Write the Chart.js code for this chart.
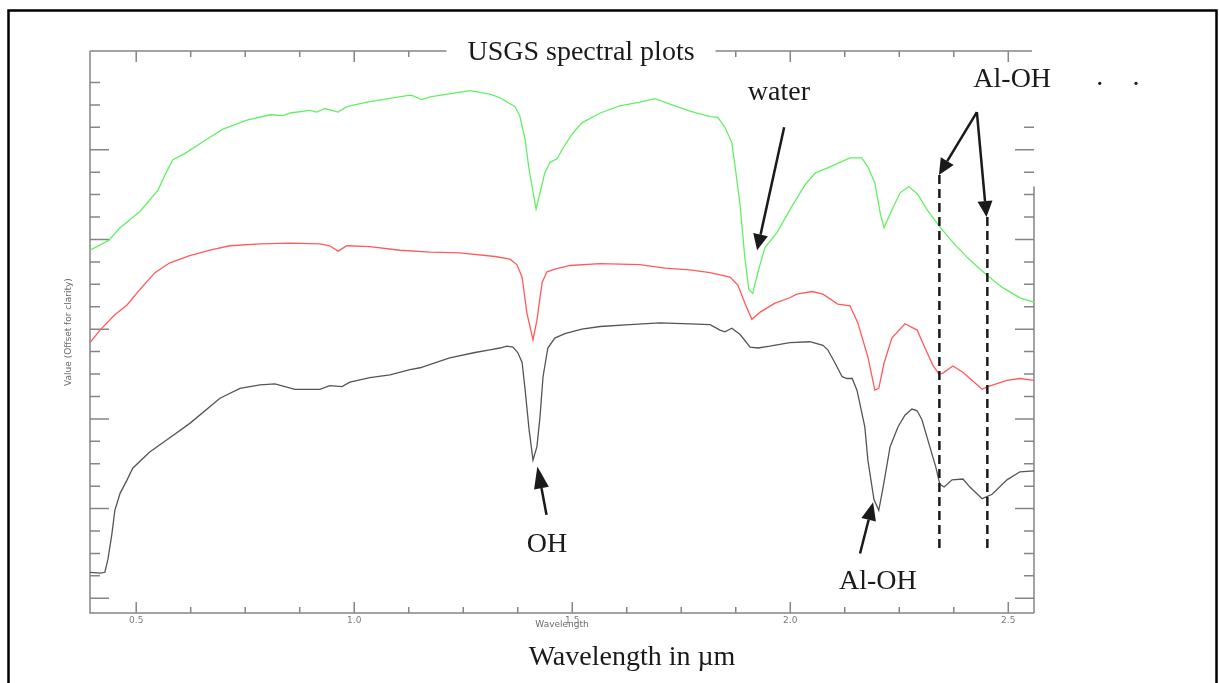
<!DOCTYPE html>
<html>
<head>
<meta charset="utf-8">
<title>USGS spectral plots</title>
<script src="https://cdn.jsdelivr.net/npm/chart.js"></script>
<style>
  html, body { margin: 0; padding: 0; background: #fff; }
  #wrap { position: relative; width: 1219px; height: 683px; }
</style>
</head>
<body>
<div id="wrap"><canvas id="spectra"></canvas></div>
<script>
// spectra: wavelength (µm) and offset value
const greenWl = [0.394, 0.437, 0.463, 0.508, 0.550, 0.566, 0.584, 0.612, 0.669, 0.699, 0.754, 0.807, 0.836, 0.853, 0.898, 0.914, 0.933, 0.963, 0.983, 1.029,
  1.128, 1.135, 1.155, 1.174, 1.265, 1.311, 1.334, 1.369, 1.380, 1.392, 1.401, 1.417, 1.426, 1.437, 1.449, 1.465, 1.479, 1.499, 1.522, 1.564,
  1.609, 1.655, 1.690, 1.724, 1.770, 1.816, 1.834, 1.850, 1.866, 1.873, 1.885, 1.896, 1.905, 1.914, 1.926, 1.942, 1.970, 1.999, 2.034, 2.057,
  2.091, 2.114, 2.137, 2.164, 2.178, 2.194, 2.206, 2.215, 2.236, 2.252, 2.272, 2.293, 2.314, 2.343, 2.378, 2.412, 2.451, 2.488, 2.527, 2.559];
const greenVal = [3.88, 3.99, 4.13, 4.31, 4.55, 4.72, 4.89, 4.96, 5.14, 5.23, 5.33, 5.39, 5.38, 5.41, 5.44, 5.42, 5.46, 5.42, 5.48, 5.53,
  5.61, 5.60, 5.56, 5.59, 5.66, 5.62, 5.58, 5.48, 5.37, 5.11, 4.78, 4.34, 4.52, 4.74, 4.86, 4.90, 5.02, 5.17, 5.30, 5.41,
  5.49, 5.53, 5.57, 5.51, 5.43, 5.37, 5.36, 5.25, 5.08, 4.83, 4.38, 3.79, 3.44, 3.40, 3.64, 3.91, 4.08, 4.33, 4.61, 4.74,
  4.81, 4.86, 4.91, 4.91, 4.81, 4.63, 4.30, 4.13, 4.36, 4.52, 4.59, 4.50, 4.33, 4.14, 3.94, 3.77, 3.60, 3.46, 3.35, 3.30];

const redWl = [0.394, 0.417, 0.451, 0.479, 0.508, 0.543, 0.577, 0.623, 0.669, 0.715, 0.784, 0.853, 0.921, 0.944, 0.963, 0.983, 1.036, 1.105, 1.174, 1.242,
  1.323, 1.357, 1.373, 1.385, 1.396, 1.410, 1.419, 1.431, 1.442, 1.460, 1.495, 1.564, 1.655, 1.713, 1.770, 1.816, 1.862, 1.880, 1.896, 1.912,
  1.931, 1.965, 1.999, 2.015, 2.050, 2.075, 2.109, 2.137, 2.155, 2.178, 2.194, 2.203, 2.215, 2.233, 2.263, 2.291, 2.309, 2.327, 2.341, 2.350,
  2.373, 2.396, 2.440, 2.453, 2.497, 2.527, 2.559];
const redVal = [2.85, 2.99, 3.16, 3.27, 3.44, 3.63, 3.74, 3.82, 3.88, 3.93, 3.95, 3.96, 3.95, 3.93, 3.87, 3.93, 3.92, 3.88, 3.86, 3.85,
  3.81, 3.78, 3.72, 3.58, 3.18, 2.88, 3.10, 3.52, 3.64, 3.67, 3.71, 3.73, 3.72, 3.68, 3.66, 3.63, 3.58, 3.49, 3.29, 3.11,
  3.19, 3.29, 3.35, 3.39, 3.42, 3.39, 3.28, 3.26, 3.07, 2.69, 2.32, 2.34, 2.62, 2.90, 3.06, 2.99, 2.79, 2.60, 2.50, 2.51,
  2.59, 2.52, 2.33, 2.36, 2.43, 2.45, 2.43];

const grayWl = [0.394, 0.417, 0.428, 0.435, 0.444, 0.451, 0.463, 0.479, 0.492, 0.520, 0.531, 0.577, 0.623, 0.692, 0.738, 0.784, 0.818, 0.864, 0.921, 0.944,
  0.972, 0.990, 1.036, 1.082, 1.128, 1.151, 1.219, 1.277, 1.311, 1.334, 1.350, 1.364, 1.375, 1.385, 1.392, 1.401, 1.410, 1.419, 1.426, 1.433,
  1.444, 1.460, 1.483, 1.522, 1.564, 1.632, 1.701, 1.770, 1.816, 1.839, 1.850, 1.866, 1.885, 1.908, 1.926, 1.953, 1.999, 2.045, 2.075, 2.086,
  2.103, 2.119, 2.130, 2.142, 2.153, 2.171, 2.178, 2.192, 2.203, 2.213, 2.229, 2.247, 2.263, 2.279, 2.291, 2.302, 2.320, 2.334, 2.343, 2.353,
  2.371, 2.396, 2.412, 2.440, 2.463, 2.497, 2.527, 2.559];
const grayVal = [0.29, 0.28, 0.29, 0.43, 0.71, 0.98, 1.17, 1.32, 1.45, 1.58, 1.63, 1.79, 1.95, 2.23, 2.34, 2.38, 2.39, 2.33, 2.33, 2.37,
  2.36, 2.41, 2.46, 2.49, 2.55, 2.57, 2.68, 2.74, 2.77, 2.79, 2.81, 2.80, 2.74, 2.63, 2.32, 1.88, 1.54, 1.69, 2.02, 2.47,
  2.79, 2.90, 2.95, 3.00, 3.03, 3.05, 3.07, 3.06, 3.05, 2.99, 2.97, 3.01, 2.94, 2.80, 2.79, 2.81, 2.85, 2.86, 2.82, 2.77,
  2.62, 2.47, 2.45, 2.45, 2.32, 1.91, 1.54, 1.10, 0.98, 1.24, 1.69, 1.91, 2.04, 2.11, 2.09, 1.99, 1.69, 1.46, 1.27, 1.24,
  1.32, 1.33, 1.24, 1.11, 1.16, 1.32, 1.41, 1.42];

// axis ticks
const xMajorTicks = [0.5, 1.0, 1.5, 2.0, 2.5];
const xTickLabels = ['0.5', '1.0', '1.5', '2.0', '2.5'];
const xMinorTicks = [0.625, 0.75, 0.875, 1.125, 1.25, 1.375, 1.625, 1.75, 1.875, 2.125, 2.25, 2.375];
const yMajorTicks = [0, 1, 2, 3, 4, 5];
const yMinorTicks = [0.25, 0.5, 0.75, 1.25, 1.5, 1.75, 2.25, 2.5, 2.75, 3.25, 3.5, 3.75, 4.25, 4.5, 4.75, 5.25, 5.5, 5.75];

// annotation labels and arrows, in data coordinates
const labels = [
  { text: 'water', x: 1.974, y: 5.555 },
  { text: 'Al-OH', x: 2.509, y: 5.70 },
  { text: '.', x: 2.710, y: 5.72 },
  { text: '.', x: 2.793, y: 5.72 },
  { text: 'OH', x: 1.442, y: 0.52 },
  { text: 'Al-OH', x: 2.201, y: 0.10 }
];
const arrows = [
  { from: [1.986, 5.25], to: [1.924, 3.88], head: 16 },
  { from: [1.441, 0.93], to: [1.420, 1.47], head: 22 },
  { from: [2.160, 0.50], to: [2.190, 1.07], head: 18 },
  { from: [2.428, 5.42], to: [2.341, 4.72], head: 16 },
  { from: [2.428, 5.42], to: [2.450, 4.25], head: 16 }
];
const dashes = [
  { x: 2.342, from: 4.72, to: 0.51 },
  { x: 2.452, from: 4.25, to: 0.55 }
];

const chartTitle = 'USGS spectral plots';
const bottomTitle = 'Wavelength in µm';
const serif = '28px "Liberation Serif", "Times New Roman", serif';
const ink = '#1a1a1a';
const axisColor = '#858585';
const rightAxisTop = 4.59;   // right frame line is hidden above this
const rightTickTop = 5.3;

const toPoints = (xs, ys) => xs.map((v, i) => ({ x: v, y: ys[i] }));

function arrow(ctx, x1, y1, x2, y2, head) {
  const a = Math.atan2(y2 - y1, x2 - x1);
  const bx = x2 - head * Math.cos(a), by = y2 - head * Math.sin(a);
  ctx.beginPath();
  ctx.moveTo(x1, y1);
  ctx.lineTo(bx, by);
  ctx.stroke();
  ctx.beginPath();
  ctx.moveTo(x2, y2);
  ctx.lineTo(bx + 7.5 * Math.sin(a), by - 7.5 * Math.cos(a));
  ctx.lineTo(bx - 7.5 * Math.sin(a), by + 7.5 * Math.cos(a));
  ctx.closePath();
  ctx.fill();
}

// frame with inward ticks, top line broken for the title
const frame = {
  id: 'frame',
  beforeDatasetsDraw(chart) {
    const { ctx, chartArea: a, scales: { x, y } } = chart;
    ctx.save();
    ctx.font = serif;
    const tw = ctx.measureText(chartTitle).width;
    const cx = 581;
    const gapL = cx - tw / 2 - 21, gapR = cx + tw / 2 + 21;
    ctx.strokeStyle = axisColor;
    ctx.lineWidth = 1.5;
    ctx.beginPath();
    ctx.moveTo(a.left, a.top);
    ctx.lineTo(a.left, a.bottom);
    ctx.lineTo(a.right, a.bottom);
    ctx.moveTo(a.right, y.getPixelForValue(rightAxisTop));
    ctx.lineTo(a.right, a.bottom);
    ctx.moveTo(a.left, a.top);
    ctx.lineTo(gapL, a.top);
    ctx.moveTo(gapR, a.top);
    ctx.lineTo(a.right - 2, a.top);

    const xTick = (v, len) => {
      const px = x.getPixelForValue(v);
      ctx.moveTo(px, a.bottom);
      ctx.lineTo(px, a.bottom - len);
      if (px < gapL || px > gapR) {
        ctx.moveTo(px, a.top);
        ctx.lineTo(px, a.top + len);
      }
    };
    xMajorTicks.forEach(v => xTick(v, 11));
    xMinorTicks.forEach(v => xTick(v, 6));

    const yTick = (v, len) => {
      const py = y.getPixelForValue(v);
      ctx.moveTo(a.left, py);
      ctx.lineTo(a.left + len, py);
      if (v <= rightTickTop) {
        ctx.moveTo(a.right, py);
        ctx.lineTo(a.right - len, py);
      }
    };
    yMajorTicks.forEach(v => yTick(v, 19));
    yMinorTicks.forEach(v => yTick(v, 10));
    ctx.stroke();
    ctx.restore();
  }
};

// titles, labels, arrows, dashed markers and the outer box
const notes = {
  id: 'notes',
  afterDraw(chart) {
    const { ctx, scales: { x, y } } = chart;
    const px = v => x.getPixelForValue(v);
    const py = v => y.getPixelForValue(v);
    ctx.save();
    ctx.fillStyle = ink;
    ctx.strokeStyle = ink;
    ctx.font = serif;
    ctx.textAlign = 'center';
    ctx.textBaseline = 'alphabetic';
    ctx.fillText(chartTitle, 581, 60);
    ctx.fillText(bottomTitle, 632, 665);
    labels.forEach(l => ctx.fillText(l.text, px(l.x), py(l.y)));

    ctx.lineWidth = 2.5;
    ctx.setLineDash([9, 5]);
    dashes.forEach(d => {
      ctx.beginPath();
      ctx.moveTo(px(d.x), py(d.from));
      ctx.lineTo(px(d.x), py(d.to));
      ctx.stroke();
    });
    ctx.setLineDash([]);
    arrows.forEach(r => arrow(ctx, px(r.from[0]), py(r.from[1]), px(r.to[0]), py(r.to[1]), r.head));

    ctx.strokeStyle = '#000';
    ctx.lineWidth = 2.5;
    ctx.strokeRect(8.5, 10.5, 1208, 700);
    ctx.restore();
  }
};

const ctx = document.getElementById('spectra').getContext('2d');
new Chart(ctx, {
  type: 'scatter',
  data: {
    datasets: [
      { label: 'green', data: toPoints(greenWl, greenVal), borderColor: '#62f062' },
      { label: 'red', data: toPoints(redWl, redVal), borderColor: '#ff5a5a' },
      { label: 'gray', data: toPoints(grayWl, grayVal), borderColor: '#555555' }
    ]
  },
  options: {
    responsive: true,
    maintainAspectRatio: false,
    animation: false,
    events: [],
    datasets: {
      scatter: { showLine: true, pointRadius: 0, borderWidth: 1.3, tension: 0, fill: false }
    },
    layout: { padding: { left: 0, top: 51, right: 185, bottom: 0 } },
    plugins: { legend: { display: false }, tooltip: { enabled: false } },
    scales: {
      x: {
        type: 'linear',
        min: 0.394,
        max: 2.559,
        grid: { display: false, drawTicks: false },
        border: { display: false },
        afterBuildTicks: s => { s.ticks = xMajorTicks.map(v => ({ value: v })); },
        ticks: {
          autoSkip: false,
          maxRotation: 0,
          padding: 2,
          color: '#7a7a7a',
          font: { family: 'DejaVu Sans', size: 9 },
          callback: (v, i) => xTickLabels[i]
        },
        title: {
          display: true,
          text: 'Wavelength',
          color: '#6a6a6a',
          font: { family: 'DejaVu Sans', size: 9 },
          padding: { top: 0, bottom: 53 }
        },
        afterFit: s => { s.height = 70; }
      },
      y: {
        type: 'linear',
        min: -0.164,
        max: 6.101,
        grid: { display: false, drawTicks: false },
        border: { display: false },
        ticks: { display: false },
        title: {
          display: true,
          text: 'Value (Offset for clarity)',
          color: '#6a6a6a',
          font: { family: 'DejaVu Sans', size: 9 },
          padding: { top: 63, bottom: 0 }
        },
        afterFit: s => { s.width = 90; }
      }
    }
  },
  plugins: [frame, notes]
});
</script>
</body>
</html>
